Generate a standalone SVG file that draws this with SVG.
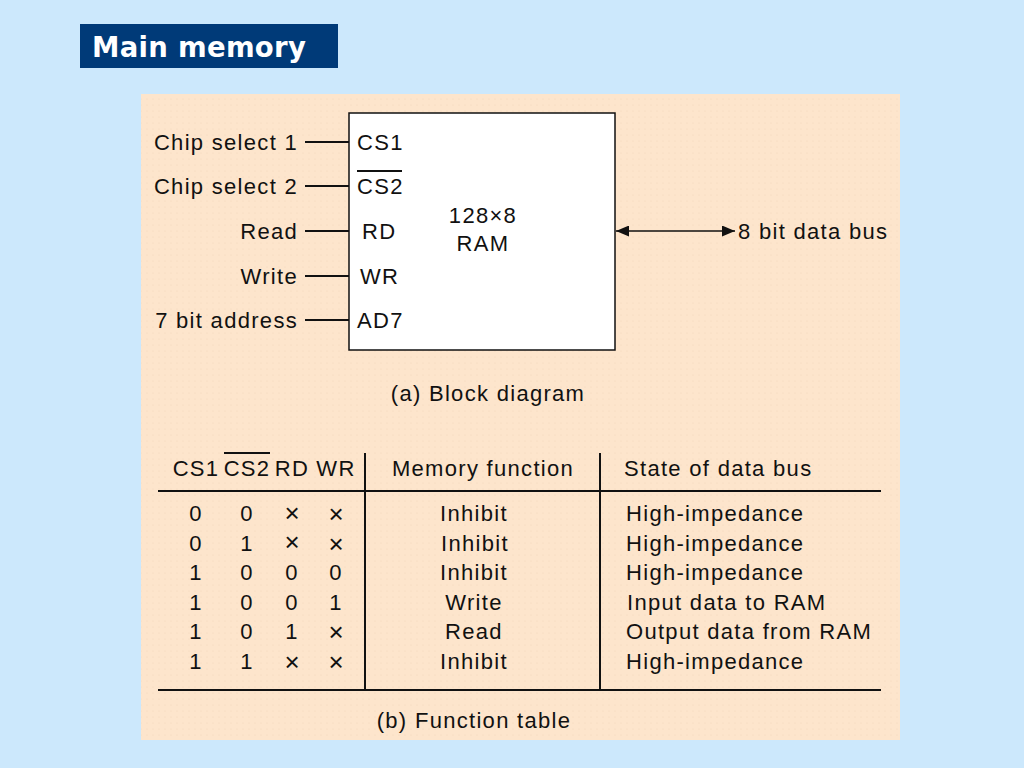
<svg xmlns="http://www.w3.org/2000/svg" width="1024" height="768" viewBox="0 0 1024 768">
<defs>
<style>
.t{font-family:"Liberation Sans",Arial,sans-serif;font-size:22px;fill:#111;letter-spacing:1.3px}
.r{text-anchor:end}
.m{text-anchor:middle}
.x{font-size:26px;letter-spacing:0}
.ln{stroke:#111;stroke-width:2;fill:none}
</style>
<marker id="ah" viewBox="0 0 10 10" refX="10" refY="5" markerWidth="13" markerHeight="11" markerUnits="userSpaceOnUse" orient="auto-start-reverse" preserveAspectRatio="none">
<path d="M0,0 L10,5 L0,10 z" fill="#111"/>
</marker>
<pattern id="dots" width="6" height="6" patternUnits="userSpaceOnUse">
<rect width="6" height="6" fill="#FDE5CC"/>
<circle cx="3" cy="3" r="0.6" fill="#F2D6BC"/>
</pattern>
</defs>
<rect width="1024" height="768" fill="#CCE8FC"/>
<g id="title">
<rect x="80" y="24" width="258" height="44" fill="#003A78"/>
<text x="92" y="57" font-family="DejaVu Sans,Verdana,sans-serif" font-weight="bold" font-size="27.5" letter-spacing="0.3" fill="#fff">Main memory</text>
</g>
<rect x="141" y="94" width="759" height="646" fill="url(#dots)"/>
<g id="ram">
<rect x="349" y="113" width="266" height="237" fill="#fff" stroke="#111" stroke-width="1.5"/>
<text class="t" x="357" y="150">CS1</text>
<text class="t" x="357" y="194">CS2</text>
<line x1="357" y1="171" x2="402" y2="171" stroke="#111" stroke-width="2"/>
<text class="t" x="362" y="239">RD</text>
<text class="t" x="360" y="284">WR</text>
<text class="t" x="357" y="328">AD7</text>
<text class="t m" x="483" y="223">128×8</text>
<text class="t m" x="483" y="251">RAM</text>
</g>
<g id="inputs">
<text class="t r" x="298" y="150">Chip select 1</text>
<text class="t r" x="298" y="194">Chip select 2</text>
<text class="t r" x="298" y="239">Read</text>
<text class="t r" x="298" y="284">Write</text>
<text class="t r" x="298" y="328">7 bit address</text>
<text class="t" x="738" y="239">8 bit data bus</text>
</g>
<g id="connectors">
<line class="ln" x1="305" y1="142" x2="349" y2="142"/>
<line class="ln" x1="305" y1="186" x2="349" y2="186"/>
<line class="ln" x1="305" y1="231" x2="349" y2="231"/>
<line class="ln" x1="305" y1="276" x2="349" y2="276"/>
<line class="ln" x1="305" y1="320" x2="349" y2="320"/>
<line x1="616" y1="231" x2="735" y2="231" stroke="#111" stroke-width="1.3" marker-start="url(#ah)" marker-end="url(#ah)"/>
</g>
<text class="t m" x="488" y="401">(a) Block diagram</text>
<g id="table">
<line class="ln" x1="158" y1="491" x2="881" y2="491"/>
<line class="ln" x1="158" y1="690" x2="881" y2="690"/>
<line class="ln" x1="365" y1="453" x2="365" y2="690"/>
<line class="ln" x1="600" y1="453" x2="600" y2="690"/>
<text class="t m" x="196" y="476">CS1</text>
<text class="t m" x="247" y="476">CS2</text>
<line x1="224" y1="453" x2="270" y2="453" stroke="#111" stroke-width="2"/>
<text class="t m" x="292" y="476">RD</text>
<text class="t m" x="336" y="476">WR</text>
<text class="t m" x="483" y="476">Memory function</text>
<text class="t" x="624" y="476">State of data bus</text>
<g class="t m">
<text x="196" y="521">0</text><text x="247" y="521">0</text><text class="x" x="292" y="522">×</text><text class="x" x="336" y="523">×</text>
<text x="196" y="551">0</text><text x="247" y="551">1</text><text class="x" x="292" y="551">×</text><text class="x" x="336" y="553">×</text>
<text x="196" y="580">1</text><text x="247" y="580">0</text><text x="292" y="580">0</text><text x="336" y="580">0</text>
<text x="196" y="610">1</text><text x="247" y="610">0</text><text x="292" y="610">0</text><text x="336" y="610">1</text>
<text x="196" y="639">1</text><text x="247" y="639">0</text><text x="292" y="639">1</text><text class="x" x="336" y="641">×</text>
<text x="196" y="669">1</text><text x="247" y="669">1</text><text class="x" x="292" y="671">×</text><text class="x" x="336" y="671">×</text>
<text x="474" y="521">Inhibit</text>
<text x="475" y="551">Inhibit</text>
<text x="474" y="580">Inhibit</text>
<text x="474" y="610">Write</text>
<text x="474" y="639">Read</text>
<text x="474" y="669">Inhibit</text>
</g>
<g class="t">
<text x="626" y="521">High-impedance</text>
<text x="626" y="551">High-impedance</text>
<text x="626" y="580">High-impedance</text>
<text x="627" y="610">Input data to RAM</text>
<text x="626" y="639">Output data from RAM</text>
<text x="626" y="669">High-impedance</text>
</g>
</g>
<text class="t m" x="474" y="728">(b) Function table</text>
</svg>
